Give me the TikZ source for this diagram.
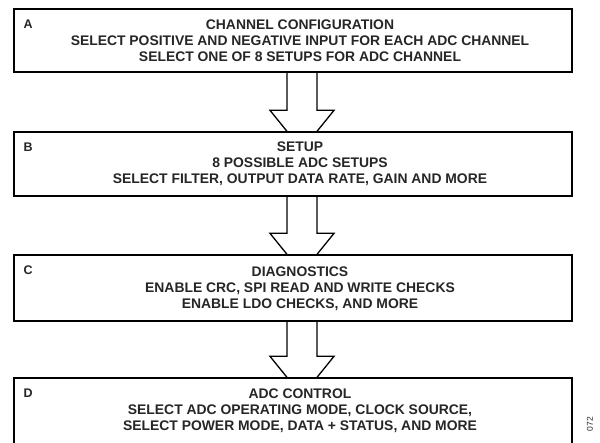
\documentclass[tikz,border=0pt]{standalone}
\usepackage{fontspec}
\setmainfont{Liberation Sans}
\usetikzlibrary{calc}
\definecolor{inkgray}{gray}{0.15}
\tikzset{
  stagebox/.style={draw, line width=1.3pt, fill=white, minimum width=558pt, inner sep=0pt},
  stagetext/.style={align=center, text=inkgray, font=\bfseries\fontsize{13.9}{15.8}\selectfont, inner sep=0pt},
  stagelabel/.style={anchor=north west, text=inkgray, font=\bfseries\fontsize{12.5}{14}\selectfont, inner sep=0pt},
  blockarrow/.style={line width=1.3pt, line join=miter}
}
\begin{document}
\begin{tikzpicture}[x=1pt, y=1pt]
    \useasboundingbox (0,0) rectangle (600,443);
    \clip (0,0) rectangle (600,443);

    % Boxes
    \node[stagebox, minimum height=63pt] (boxA) at (293,402.5) {};
    \node[stagebox, minimum height=64pt] (boxB) at (293,279) {};
    \node[stagebox, minimum height=66pt] (boxC) at (293,155) {};
    \node[stagebox, minimum height=67pt] (boxD) at (293,31.5) {};

    % Hollow arrows between the boxes
    \foreach \from/\to in {boxA/boxB, boxB/boxC, boxC/boxD}{
      \draw[blockarrow] ($(\from.south)+(-6,0)$) -- ($(\to.north)+(-6,21)$) -- ($(\to.north)+(-23,21)$) -- ($(\to.north)+(-6,0)$);
      \draw[blockarrow] ($(\from.south)+(24,0)$) -- ($(\to.north)+(24,21)$) -- ($(\to.north)+(41,21)$) -- ($(\to.north)+(24,0)$);
    }

    % Box texts
    \node[stagetext] (textA) at (300,402) {CHANNEL CONFIGURATION\\SELECT POSITIVE AND NEGATIVE INPUT FOR EACH ADC CHANNEL\\SELECT ONE OF 8 SETUPS FOR ADC CHANNEL};
    \node[stagetext] (textB) at (300,279) {SETUP\\8 POSSIBLE ADC SETUPS\\SELECT FILTER, OUTPUT DATA RATE, GAIN AND MORE};
    \node[stagetext] (textC) at (300,154.5) {DIAGNOSTICS\\ENABLE CRC, SPI READ AND WRITE CHECKS\\ENABLE LDO CHECKS, AND MORE};
    \node[stagetext] (textD) at (300,32) {ADC CONTROL\\SELECT ADC OPERATING MODE, CLOCK SOURCE,\\SELECT POWER MODE, DATA + STATUS, AND MORE};

    % Box letters
    \foreach \b/\l in {boxA/A, boxB/B, boxC/C, boxD/D}
      \node[stagelabel] (lab\l) at ($(\b.north west)+(10,-11)$) {\l};

    % Figure number
    \node[font=\fontsize{8.5}{9}\selectfont, text=inkgray, rotate=90, inner sep=0pt] (figno) at (590,19) {072};
\end{tikzpicture}
\end{document}
